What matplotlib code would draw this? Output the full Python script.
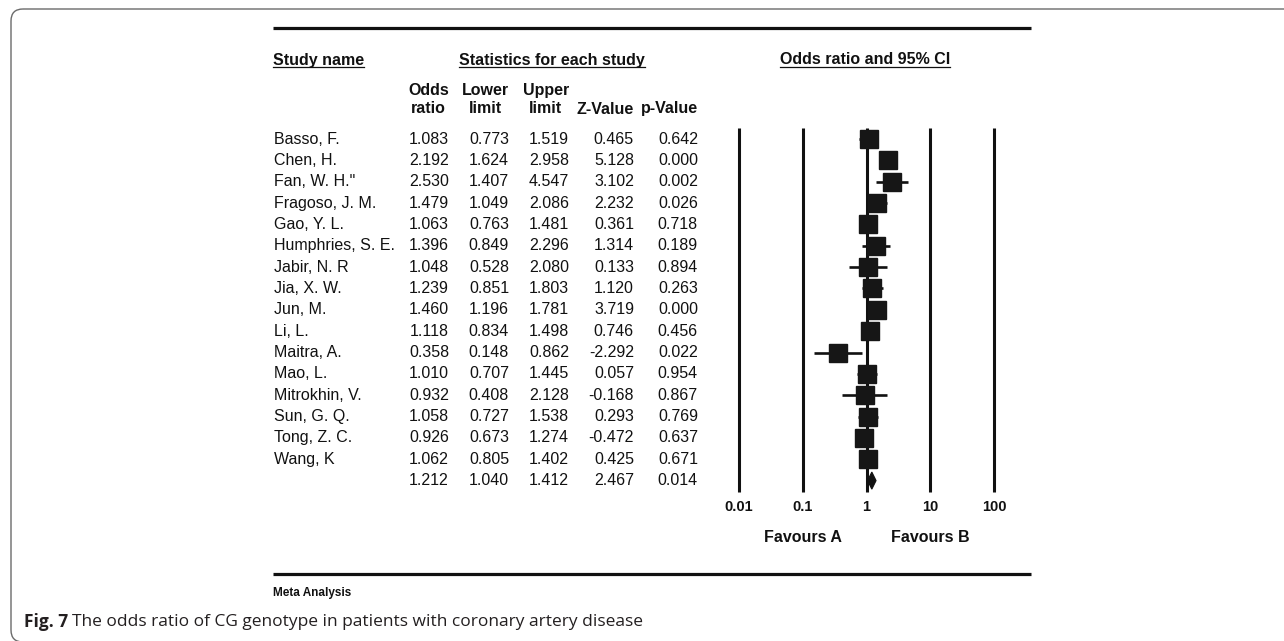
import matplotlib
matplotlib.use("Agg")
import matplotlib.pyplot as plt
from matplotlib.patches import FancyBboxPatch, Polygon
import numpy as np

# ---------------- data ----------------
studies = ["Basso, F.", "Chen, H.", "Fan, W. H.\"", "Fragoso, J. M.", "Gao, Y. L.",
           "Humphries, S. E.", "Jabir, N. R", "Jia, X. W.", "Jun, M.", "Li, L.",
           "Maitra, A.", "Mao, L.", "Mitrokhin, V.", "Sun, G. Q.", "Tong, Z. C.", "Wang, K"]
odds_ratio = [1.083, 2.192, 2.530, 1.479, 1.063, 1.396, 1.048, 1.239, 1.460, 1.118,
              0.358, 1.010, 0.932, 1.058, 0.926, 1.062]
lower = [0.773, 1.624, 1.407, 1.049, 0.763, 0.849, 0.528, 0.851, 1.196, 0.834,
         0.148, 0.707, 0.408, 0.727, 0.673, 0.805]
upper = [1.519, 2.958, 4.547, 2.086, 1.481, 2.296, 2.080, 1.803, 1.781, 1.498,
         0.862, 1.445, 2.128, 1.538, 1.274, 1.402]
z_value = [0.465, 5.128, 3.102, 2.232, 0.361, 1.314, 0.133, 1.120, 3.719, 0.746,
           -2.292, 0.057, -0.168, 0.293, -0.472, 0.425]
p_value = [0.642, 0.000, 0.002, 0.026, 0.718, 0.189, 0.894, 0.263, 0.000, 0.456,
           0.022, 0.954, 0.867, 0.769, 0.637, 0.671]
summary = {"or": 1.212, "lower": 1.040, "upper": 1.412, "z": 2.467, "p": 0.014}

ticks = [0.01, 0.1, 1, 10, 100]
tick_labels = ["0.01", "0.1", "1", "10", "100"]
col_headers = ["Odds\nratio", "Lower\nlimit", "Upper\nlimit", "Z-Value", "p-Value"]

# ---------------- layout ----------------
W, H = 1284, 641
fig = plt.figure(figsize=(W / 100, H / 100), dpi=100)
bg = fig.add_axes([0, 0, 1, 1])
bg.set_xlim(0, W)
bg.set_ylim(H, 0)
bg.axis("off")

FONT = ["Liberation Sans", "DejaVu Sans"]
ink = "#111111"

# rounded frame
frame = FancyBboxPatch((11, 9), W + 40, H - 9 + 1,
                       boxstyle="round,pad=0,rounding_size=12",
                       fc="none", ec="#6b6b6b", lw=1.0)
bg.add_patch(frame)

# thick rules
bg.plot([273, 1031], [28, 28], color=ink, lw=2.3, solid_capstyle="butt")
bg.plot([273, 1031], [574, 574], color=ink, lw=2.3, solid_capstyle="butt")

row0, dy = 139.0, 21.35
nrows = len(studies) + 1

fig.canvas.draw()
renderer = fig.canvas.get_renderer()


def underlined(x, y, s, ha):
    t = bg.text(x, y, s, ha=ha, va="center", fontsize=11.5, fontweight="bold",
                family=FONT, color=ink)
    bb = t.get_window_extent(renderer=renderer)
    bg.plot([bb.x0, bb.x1], [67, 67], color=ink, lw=0.9)


underlined(273, 60, "Study name", "left")
underlined(552, 60, "Statistics for each study", "center")
underlined(865, 60, "Odds ratio and 95% CI", "center")

col_right = [449, 509, 569, 634, 698]
for xr, h in zip(col_right, col_headers):
    bg.text(xr, 99.5 if "\n" in h else 109, h, ha="right", va="center",
            multialignment="center", fontsize=11.5, fontweight="bold",
            family=FONT, color=ink, linespacing=1.22)

for i, name in enumerate(studies):
    y = row0 + i * dy
    bg.text(274, y, name, ha="left", va="center", fontsize=11.5, family=FONT, color=ink)
    vals = [odds_ratio[i], lower[i], upper[i], z_value[i], p_value[i]]
    for xr, v in zip(col_right, vals):
        bg.text(xr, y, f"{v:.3f}", ha="right", va="center", fontsize=11.5,
                family=FONT, color=ink)
ys = row0 + (nrows - 1) * dy
for xr, v in zip(col_right, [summary["or"], summary["lower"], summary["upper"],
                             summary["z"], summary["p"]]):
    bg.text(xr, ys, f"{v:.3f}", ha="right", va="center", fontsize=11.5,
            family=FONT, color=ink)

bg.text(273, 593, "Meta Analysis", ha="left", va="center", fontsize=8.5,
        fontweight="bold", family=FONT, color=ink)

# caption
CAPF = ["Open Sans", "DejaVu Sans"]
t1 = bg.text(24, 622, "Fig. 7", ha="left", va="center", fontsize=12.5,
             fontweight="bold", family=CAPF, color="#231f20")
bb = t1.get_window_extent(renderer=renderer)
bg.text(bb.x1 + 4, 622, "The odds ratio of CG genotype in patients with coronary artery disease",
        ha="left", va="center", fontsize=12.5, family=CAPF, color="#231f20")

# ---------------- forest axes ----------------
x0p, x1p, ytop, ybot = 739, 994, 128, 492
ax = fig.add_axes([x0p / W, (H - ybot) / H, (x1p - x0p) / W, (ybot - ytop) / H])
ax.set_xscale("log")
ax.set_xlim(0.01, 100)
ax.set_ylim((ybot - row0) / dy, -(row0 - ytop) / dy)
ax.patch.set_alpha(0)
for s in ax.spines.values():
    s.set_visible(False)
ax.set_yticks([])
ax.set_xticks(ticks)
ax.set_xticklabels(tick_labels, fontsize=10.5, fontweight="bold", family=FONT, color=ink)
ax.minorticks_off()
ax.tick_params(axis="x", length=0, pad=6)

ylo, yhi = ax.get_ylim()
ax.vlines(ticks, yhi, ylo, color=ink, lw=2.2, clip_on=False)

idx = np.arange(len(studies))
ax.hlines(idx, lower, upper, color=ink, lw=1.9, clip_on=False)
ax.plot(odds_ratio, idx, ls="none", marker="s", ms=13.2, mfc="#161616",
        mec="#161616", clip_on=False)

yi = len(studies)
dh = 0.4
diamond = Polygon([[summary["lower"], yi], [summary["or"], yi - dh],
                   [summary["upper"], yi], [summary["or"], yi + dh]],
                  closed=True, fc=ink, ec=ink, lw=0.8, clip_on=False)
ax.add_patch(diamond)

for xv, lab in [(0.1, "Favours A"), (10, "Favours B")]:
    ax.annotate(lab, xy=(xv, H - 538), xycoords=("data", "figure pixels"),
                ha="center", va="center", fontsize=11.5, fontweight="bold",
                family=FONT, color=ink)

fig.savefig("out.png", dpi=100, facecolor="white")
